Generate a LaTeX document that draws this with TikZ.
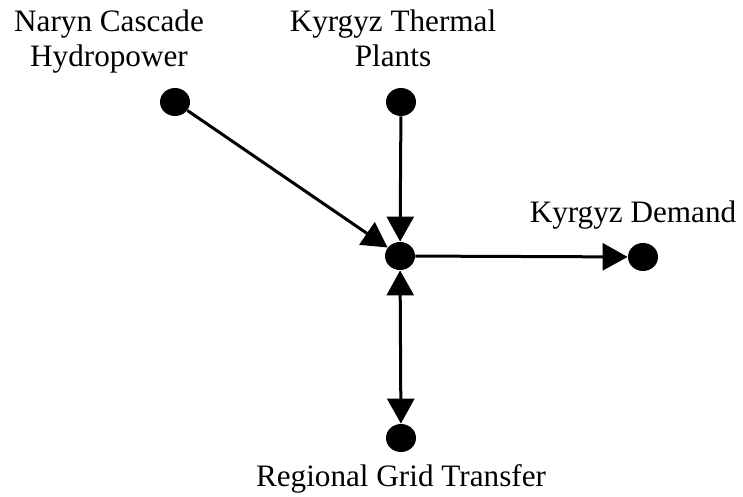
\documentclass[tikz,border=0pt]{standalone}
\usepackage{fontspec}
\setmainfont{Liberation Serif}
\usetikzlibrary{positioning, arrows.meta, shapes.geometric}

\begin{document}
\begin{tikzpicture}[x=0.5pt, y=-0.5pt, >={Triangle[length=12.5pt, width=13.5pt]},
    font=\fontsize{15.6}{17.5}\selectfont]
  \useasboundingbox (0,0) rectangle (743,497);
  \tikzset{
    dot/.style={ellipse, fill=black, inner sep=0pt, minimum width=15pt, minimum height=14pt},
    flow/.style={line width=1.5pt},
    lbl/.style={align=center, inner sep=0pt}
  }
  % Supply and demand points
  \node[dot] (hydro) at (175,102) {};
  \node[dot] (thermal) at (401,102) {};
  \node[dot] (hub) at (400,256) {};
  \node[dot] (demand) at (643,257) {};
  \node[dot] (grid) at (401,438) {};
  % Labels (base = last line)
  \node[lbl, anchor=base] (hydrolbl) at (109,67) {Naryn Cascade\\Hydropower};
  \node[lbl, anchor=base] (thermallbl) at (393,67) {Kyrgyz Thermal\\Plants};
  \node[lbl, anchor=base] (demandlbl) at (633,222) {Kyrgyz Demand};
  \node[lbl, below=6pt of grid] (gridlbl) {Regional Grid Transfer};
  % Flows
  \draw[flow, ->] (hydro) -- (hub);
  \draw[flow, ->] (thermal) -- (hub);
  \draw[flow, ->] (hub) -- (demand);
  \draw[flow, <->] (hub) -- (grid);
\end{tikzpicture}
\end{document}
